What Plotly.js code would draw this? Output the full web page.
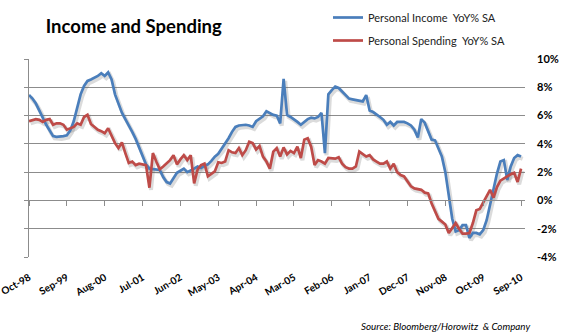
<!DOCTYPE html>
<html>
<head>
<meta charset="utf-8">
<script src="https://cdn.plot.ly/plotly-3.0.1.min.js"></script>
<style>html,body{margin:0;padding:0;background:#fff;}#chart{width:562px;height:334px;}</style>
</head>
<body>
<div id="chart"></div>
<script>
// Monthly categories Oct-98 .. Sep-10
var monthNames = ["Jan","Feb","Mar","Apr","May","Jun","Jul","Aug","Sep","Oct","Nov","Dec"];
var months = [];
(function(){ var y = 1998, m = 9; for (var k = 0; k < 144; k++) { months.push(monthNames[m] + "-" + String(y % 100).padStart(2, "0")); m++; if (m > 11) { m = 0; y++; } } })();

var tickLabels = ["Oct-98","Sep-99","Aug-00","Jul-01","Jun-02","May-03","Apr-04","Mar-05","Feb-06","Jan-07","Dec-07","Nov-08","Oct-09","Sep-10"];

var incomeYoY = [
 7.45,7.2,6.85,6.4,5.85,5.35,4.9,4.55,4.5,4.5,4.55,4.6,
 4.95,5.6,6.6,7.5,8.1,8.45,8.55,8.65,8.8,9.0,8.8,9.05,
 8.55,7.5,6.8,6.2,5.75,5.35,4.85,4.35,3.75,3.15,2.55,2.25,
 2.2,2.2,2.15,1.65,1.3,1.2,1.55,1.95,2.1,2.25,2.0,2.1,
 2.25,2.4,2.3,2.45,2.55,2.8,3.1,3.3,3.65,4.05,4.4,4.85,
 5.2,5.3,5.35,5.35,5.3,5.2,5.6,5.8,5.95,6.3,6.15,6.05,
 6.0,5.45,8.6,6.05,5.9,5.75,5.55,5.35,5.55,5.75,5.85,5.8,
 5.9,6.2,3.35,7.5,7.8,8.05,7.95,7.7,7.45,7.2,7.15,7.1,
 7.05,7.0,7.45,6.35,6.25,6.1,5.9,5.7,5.35,5.55,5.3,5.55,
 5.55,5.55,5.45,5.3,5.0,4.45,5.75,5.5,4.9,4.3,4.25,3.7,
 3.1,2.0,0.2,-1.3,-2.2,-2.1,-1.75,-1.75,-2.65,-2.3,-2.3,-2.4,
 -2.1,-1.4,-0.3,0.9,1.9,2.75,2.85,1.45,2.4,3.0,3.2,3.1
];

var spendingYoY = [
 5.6,5.7,5.75,5.7,5.55,5.7,5.75,5.35,5.45,5.45,5.35,5.0,
 5.1,5.2,5.45,5.35,5.9,6.05,5.4,5.2,5.0,4.9,4.75,5.1,
 4.6,4.05,3.7,4.1,3.35,2.65,2.75,2.5,2.6,2.55,2.5,0.9,
 3.35,2.75,2.2,2.4,2.6,2.85,3.2,2.55,2.9,3.2,2.85,3.2,
 1.2,2.2,2.5,2.6,1.7,1.9,2.05,2.7,2.65,2.75,3.55,3.4,
 3.35,3.7,3.2,3.55,4.15,4.05,3.6,3.85,3.1,2.75,2.25,3.45,
 3.7,3.1,3.75,3.25,3.5,3.35,3.8,3.0,4.3,4.4,3.8,2.5,
 2.85,2.75,2.6,3.0,3.0,2.95,3.05,2.6,2.35,2.25,2.25,2.4,
 3.45,3.3,3.1,3.2,2.9,2.75,2.6,2.6,2.75,2.25,2.6,2.0,
 1.8,1.7,1.3,1.0,0.85,0.8,0.75,0.55,0.5,-0.2,-0.8,-1.3,
 -1.5,-1.7,-2.3,-1.9,-1.6,-2.0,-2.35,-2.35,-2.3,-1.6,-0.7,-0.6,
 -0.15,0.25,0.75,0.2,0.95,1.4,1.55,1.75,1.85,1.95,1.3,2.25
];

var yTicks = [-4,-2,0,2,4,6,8,10];
var yTickText = ["-4%","-2%","0%","2%","4%","6%","8%","10%"];

var BLUE = "#4A7EBB", RED = "#BE4B48", GRID = "#8C8C8C", SHADOW = "rgba(90,90,90,0.22)";
var FONT = "Lato, 'Open Sans', sans-serif";
var PLOT_W = 562 - 29 - 37, PLOT_H = 334 - 59 - 77;
var X_RANGE = [0, 144.15], Y_RANGE = [-4, 10];
// drop-shadow offset (pixels right / down), applied as an axis-range shift of the shadow layer
var SHX = 1.6 * (X_RANGE[1] - X_RANGE[0]) / PLOT_W, SHY = 2.2 * (Y_RANGE[1] - Y_RANGE[0]) / PLOT_H;

var traces = [
  // shadows (base subplot, drawn underneath)
  {x: months, y: incomeYoY, type: "scatter", mode: "lines", line: {color: SHADOW, width: 4},
   showlegend: false, hoverinfo: "skip", xaxis: "x", yaxis: "y"},
  {x: months, y: spendingYoY, type: "scatter", mode: "lines", line: {color: SHADOW, width: 4},
   showlegend: false, hoverinfo: "skip", xaxis: "x", yaxis: "y"},
  // main series
  {x: months, y: incomeYoY, type: "scatter", mode: "lines", name: "Personal Income  YoY% SA",
   line: {color: BLUE, width: 2.7}, legendgroup: "a", xaxis: "x2", yaxis: "y2"},
  {x: months, y: spendingYoY, type: "scatter", mode: "lines", name: "Personal Spending  YoY% SA",
   line: {color: RED, width: 2.7}, legendgroup: "b", xaxis: "x2", yaxis: "y2"},
  // invisible carrier for the zero-line / left axis
  {x: months, y: spendingYoY, type: "scatter", mode: "lines", line: {width: 0, color: "rgba(0,0,0,0)"},
   showlegend: false, hoverinfo: "skip", xaxis: "x3", yaxis: "y3"}
];

var layout = {
  width: 562, height: 334,
  margin: {l: 29, r: 37, t: 59, b: 77, autoexpand: false},
  paper_bgcolor: "#fff", plot_bgcolor: "#fff",
  font: {family: FONT, color: "#000"},
  title: {text: "<b>Income and Spending</b>", font: {family: FONT, size: 18.5, color: "#000"},
          x: 19/562, xanchor: "left", xref: "paper", y: 1 - 27/334, yanchor: "middle"},
  showlegend: true,
  legend: {x: (328-29)/PLOT_W, y: 1 + (59-3)/PLOT_H, xanchor: "left", yanchor: "top",
           font: {size: 11, color: "#222", family: FONT},
           traceorder: "grouped", tracegroupgap: 4, bgcolor: "rgba(0,0,0,0)"},
  xaxis: {type: "category", range: [X_RANGE[0] - SHX, X_RANGE[1] - SHX], visible: false, fixedrange: true},
  yaxis: {range: [Y_RANGE[0] + SHY, Y_RANGE[1] + SHY], visible: false, fixedrange: true},
  xaxis2: {type: "category", overlaying: "x", anchor: "y2", side: "bottom", range: X_RANGE,
           tickmode: "array", tickvals: tickLabels, ticktext: tickLabels,
           tickangle: -30, tickfont: {size: 10, family: FONT, color: "#000", weight: "bold"},
           showgrid: false, zeroline: false, showline: false, ticks: "", ticklabelstandoff: 12},
  yaxis2: {overlaying: "y", anchor: "x2", side: "right", range: Y_RANGE,
           tickmode: "array", tickvals: yTicks, ticktext: yTickText,
           tickfont: {size: 11, family: FONT, color: "#000", weight: "bold"}, ticks: "", ticklabelstandoff: 11,
           showgrid: true, gridcolor: GRID, gridwidth: 1, zeroline: false, showline: false},
  xaxis3: {type: "category", overlaying: "x", anchor: "free", position: 4/14, range: X_RANGE,
           tickmode: "array", tickvals: tickLabels, showticklabels: false, ticks: "outside", ticklen: 5,
           tickcolor: GRID, showline: true, linecolor: GRID, linewidth: 1, showgrid: false, zeroline: false},
  yaxis3: {overlaying: "y", anchor: "x3", side: "left", range: Y_RANGE, tickmode: "array", tickvals: yTicks,
           showticklabels: false, ticks: "outside", ticklen: 4, tickcolor: GRID, showline: true,
           linecolor: GRID, linewidth: 1, showgrid: false, zeroline: false},
  annotations: [
    {text: "<i>Source: Bloomberg/Horowitz  &amp; Company</i>", xref: "paper", yref: "paper",
     x: (532-29)/PLOT_W, y: -(326-257)/PLOT_H, xanchor: "right", yanchor: "middle", showarrow: false,
     font: {size: 9.8, family: FONT, color: "#000"}}
  ]
};

Plotly.newPlot("chart", traces, layout, {staticPlot: true, displayModeBar: false});
</script>
</body>
</html>
